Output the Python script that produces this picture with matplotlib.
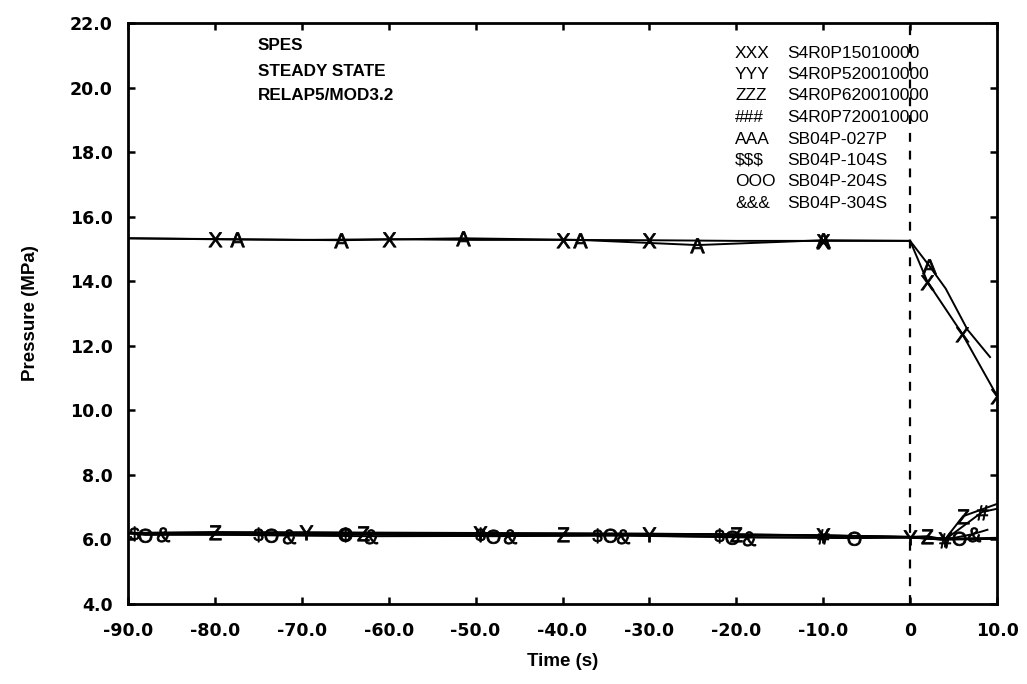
import matplotlib
matplotlib.use("Agg")
import matplotlib.pyplot as plt
from matplotlib.textpath import TextPath
from matplotlib.font_manager import FontProperties
from matplotlib.path import Path
import numpy as np

plt.rcParams['font.family'] = ['Liberation Sans', 'DejaVu Sans']

# ---- data -------------------------------------------------------------
xxx_t = [-90, -80, -70, -60, -50, -40, -30, -20, -10, 0, 2, 6, 10]
xxx_p = [15.33, 15.30, 15.28, 15.30, 15.28, 15.28, 15.27, 15.25, 15.25, 15.25, 13.98, 12.37, 10.45]
xxx_m = [1, 3, 5, 6, 8, 10, 11, 12]

aaa_t = [-90, -77.5, -65.5, -51.5, -38, -24.5, -10, 0, 2.2, 4.1, 6.6, 9.2]
aaa_p = [15.33, 15.30, 15.27, 15.33, 15.28, 15.12, 15.27, 15.25, 14.48, 13.77, 12.50, 11.65]
aaa_m = [1, 2, 3, 4, 5, 6, 8]

yyy_t = [-90, -69.5, -49.5, -30, -10, 0, 4, 10]
yyy_p = [6.20, 6.22, 6.20, 6.18, 6.13, 6.08, 6.00, 6.02]
yyy_m = [1, 2, 3, 4, 5, 6]

zzz_t = [-90, -80, -63, -40, -20, -10, 0, 2, 4, 6.1, 10]
zzz_p = [6.20, 6.23, 6.20, 6.18, 6.16, 6.12, 6.08, 6.10, 6.00, 6.72, 7.10]
zzz_m = [1, 2, 3, 4, 7, 9]

hhh_t = [-90, -60, -30, -10, 0, 4, 8.3, 10]
hhh_p = [6.19, 6.18, 6.16, 6.12, 6.07, 5.99, 6.85, 6.95]
hhh_m = [3, 5, 6]

dol_t = [-90, -89.3, -75, -65, -49.5, -36, -22, -10, 0, 4, 10]
dol_p = [6.20, 6.20, 6.18, 6.16, 6.17, 6.14, 6.15, 6.11, 6.06, 6.00, 6.02]
dol_m = [1, 2, 3, 4, 5, 6]

ooo_t = [-90, -88, -73.5, -65, -48, -34.5, -20.5, -6.5, 0, 5.6, 10]
ooo_p = [6.19, 6.14, 6.15, 6.16, 6.10, 6.13, 6.08, 6.04, 6.06, 6.03, 6.05]
ooo_m = [1, 2, 3, 4, 5, 6, 7, 9]

amp_t = [-90, -86, -71.5, -62, -46, -33, -18.5, 0, 4, 7.3, 8.9]
amp_p = [6.19, 6.17, 6.12, 6.10, 6.11, 6.12, 6.06, 6.06, 5.99, 6.17, 6.30]
amp_m = [1, 2, 3, 4, 5, 6, 9]

series_symbols = ['X', 'Y', 'Z', '#', 'A', '$', 'O', '&']
series = [
    (xxx_t, xxx_p, xxx_m),
    (yyy_t, yyy_p, yyy_m),
    (zzz_t, zzz_p, zzz_m),
    (hhh_t, hhh_p, hhh_m),
    (aaa_t, aaa_p, aaa_m),
    (dol_t, dol_p, dol_m),
    (ooo_t, ooo_p, ooo_m),
    (amp_t, amp_p, amp_m),
]

legend_codes = ['XXX', 'YYY', 'ZZZ', '###', 'AAA', '$$$', 'OOO', '&&&']
legend_names = ['S4R0P15010000', 'S4R0P520010000', 'S4R0P620010000', 'S4R0P720010000',
                'SB04P-027P', 'SB04P-104S', 'SB04P-204S', 'SB04P-304S']

x_ticks = [-90, -80, -70, -60, -50, -40, -30, -20, -10, 0, 10]
x_labels = ['-90.0', '-80.0', '-70.0', '-60.0', '-50.0', '-40.0', '-30.0', '-20.0', '-10.0', '0', '10.0']
y_ticks = [4, 6, 8, 10, 12, 14, 16, 18, 20, 22]
y_labels = ['4.0', '6.0', '8.0', '10.0', '12.0', '14.0', '16.0', '18.0', '20.0', '22.0']

title_lines = ['SPES', 'STEADY STATE', 'RELAP5/MOD3.2']


def glyph_marker(ch):
    """Upright glyph centred at origin (common scale for all glyphs)."""
    tp = TextPath((0, 0), ch, size=10, prop=FontProperties(family='Liberation Sans'))
    v = tp.vertices.copy()
    ext = tp.get_extents()
    v[:, 0] -= (ext.x0 + ext.x1) / 2
    v[:, 1] -= 3.6
    v /= 5.2
    return Path(v, tp.codes)


# ---- figure -----------------------------------------------------------
fig = plt.figure(figsize=(10.27, 6.84), dpi=100)
ax = fig.add_axes([128 / 1027, 80 / 684, 869 / 1027, 581 / 684])

for (t, p, m), ch in zip(series, series_symbols):
    ax.plot(t, p, color='black', lw=1.4)
    ax.plot(np.asarray(t)[m], np.asarray(p)[m], ls='none',
            marker=glyph_marker(ch), markersize=11, markeredgewidth=0.6,
            color='black')

ax.axvline(0, color='black', lw=1.6, ls=(0, (4, 4)))

ax.set_xlim(-90, 10)
ax.set_ylim(4, 22)
ax.set_xticks(x_ticks)
ax.set_xticklabels(x_labels)
ax.set_yticks(y_ticks)
ax.set_yticklabels(y_labels)
ax.tick_params(direction='in', length=5, width=1.8, top=True, right=True)
ax.tick_params(axis='x', pad=13)
ax.tick_params(axis='y', pad=11)
for lab in ax.get_xticklabels() + ax.get_yticklabels():
    lab.set_fontfamily('DejaVu Sans')
    lab.set_fontweight('bold')
    lab.set_fontsize(12.5)
for s in ax.spines.values():
    s.set_linewidth(2.0)

ax.set_xlabel('Time (s)', fontsize=13.5, fontweight='bold')
ax.set_ylabel('Pressure (MPa)', fontsize=13.5, fontweight='bold')
ax.xaxis.set_label_coords(0.5, -0.085)
ax.yaxis.set_label_coords(-0.102, 0.5)

# annotation block
for i, line in enumerate(title_lines):
    fig.text(258 / 1027, 1 - (46 + i * 25) / 684, line, fontsize=12.3,
             fontweight='bold', va='center', ha='left')

# custom legend
for i, (c, n) in enumerate(zip(legend_codes, legend_names)):
    y = 53 + i * 21.5
    fig.text(735 / 1027, 1 - y / 684, c, fontsize=12.5, va='center', ha='left')
    fig.text(787 / 1027, 1 - y / 684, n, fontsize=12.5, va='center', ha='left')

fig.savefig('out.png', dpi=100)
